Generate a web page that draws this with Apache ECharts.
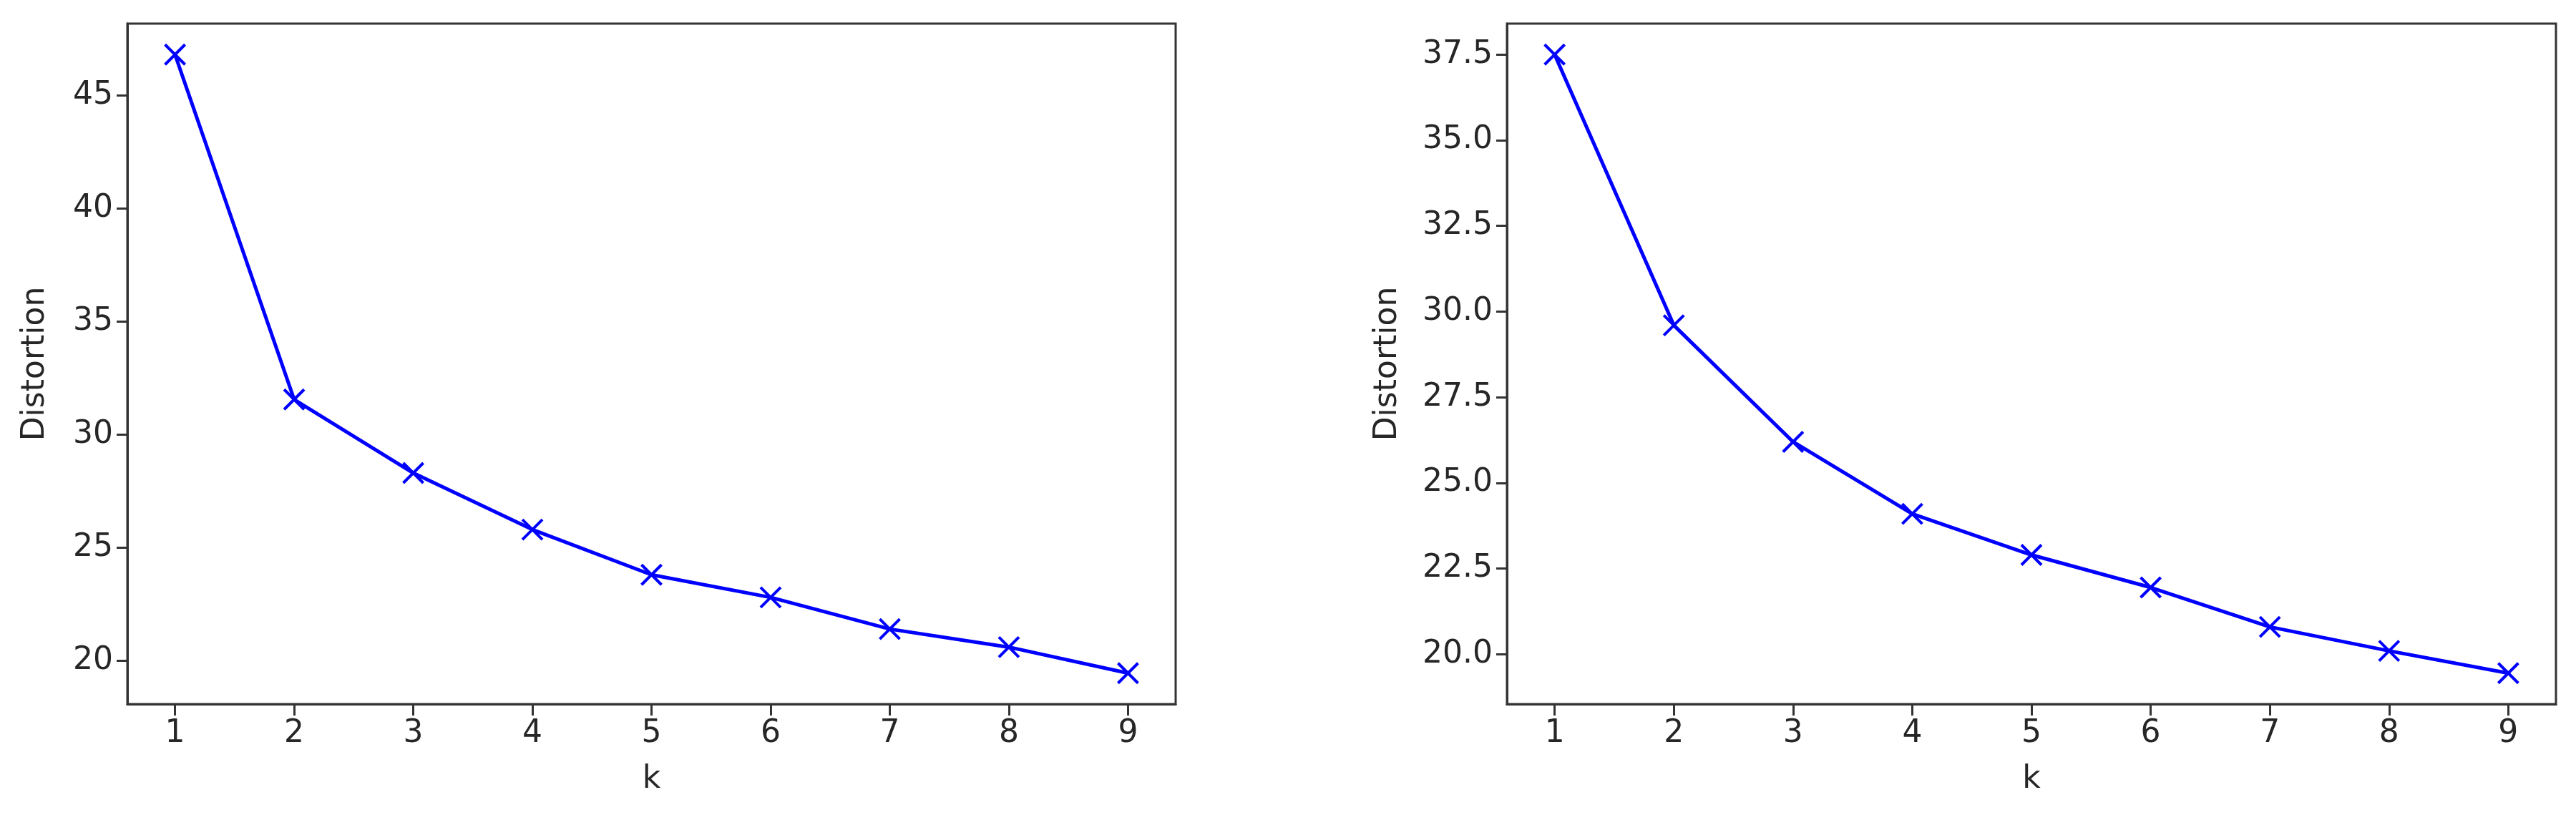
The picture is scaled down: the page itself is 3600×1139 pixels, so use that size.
<!DOCTYPE html>
<html>
<head>
<meta charset="utf-8">
<script src="https://cdn.jsdelivr.net/npm/echarts@6/dist/echarts.min.js"></script>
<style>
html,body{margin:0;padding:0;background:#ffffff;}
#chart{width:3600px;height:1139px;}
</style>
</head>
<body>
<div id="chart"></div>
<script>
// ---- data ----
const kValues = [1, 2, 3, 4, 5, 6, 7, 8, 9];
const leftDistortion = [46.8, 31.55, 28.3, 25.8, 23.8, 22.8, 21.4, 20.6, 19.45];
const rightDistortion = [37.5, 29.6, 26.2, 24.1, 22.9, 21.95, 20.8, 20.1, 19.45];
const xTicks = [1, 2, 3, 4, 5, 6, 7, 8, 9];
const leftYTicks = [20, 25, 30, 35, 40, 45];
const rightYTicks = [20, 22.5, 25, 27.5, 30, 32.5, 35, 37.5];
const xAxisName = 'k';
const yAxisName = 'Distortion';

// ---- styling ----
const FONT = 'DejaVu Sans';
const TEXT = '#262626';
const AXIS = '#333333';
const BLUE = '#0000ff';
const X_MARK = 'path://M0,0L10,10M10,0L0,10';

function pad(vals, frac) {
  const lo = Math.min.apply(null, vals), hi = Math.max.apply(null, vals);
  const m = (hi - lo) * frac;
  return [lo - m, hi + m];
}
const xRange = pad(kValues, 0.05);
const leftRange = pad(leftDistortion, 0.05);
const rightRange = pad(rightDistortion, 0.05);

function xAxis(idx) {
  return {
    type: 'value', gridIndex: idx, min: xRange[0], max: xRange[1],
    axisLine: {show: true, onZero: false, lineStyle: {color: AXIS, width: 3}},
    axisTick: {show: true, customValues: xTicks, length: 16, lineStyle: {color: AXIS, width: 3}},
    axisLabel: {customValues: xTicks, fontSize: 44, fontFamily: FONT, color: TEXT, margin: 20},
    splitLine: {show: false},
    name: xAxisName, nameLocation: 'middle', nameGap: 84,
    nameTextStyle: {fontSize: 44, fontFamily: FONT, color: TEXT}
  };
}
function yAxis(idx, range, ticks, fmt, gap) {
  return {
    type: 'value', gridIndex: idx, min: range[0], max: range[1],
    axisLine: {show: true, onZero: false, lineStyle: {color: AXIS, width: 3}},
    axisTick: {show: true, customValues: ticks, length: 15, lineStyle: {color: AXIS, width: 3}},
    axisLabel: {customValues: ticks, fontSize: 44, fontFamily: FONT, color: TEXT, margin: 20, formatter: fmt},
    splitLine: {show: false},
    name: yAxisName, nameLocation: 'middle', nameGap: gap,
    nameTextStyle: {fontSize: 44, fontFamily: FONT, color: TEXT}
  };
}
function series(idx, vals) {
  return {
    type: 'line', xAxisIndex: idx, yAxisIndex: idx,
    data: kValues.map((k, i) => [k, vals[i]]),
    lineStyle: {color: BLUE, width: 5},
    symbol: X_MARK, symbolSize: 28, showAllSymbol: true,
    itemStyle: {color: BLUE, borderColor: BLUE, borderWidth: 4},
    emphasis: {disabled: true}, clip: false, animation: false
  };
}

const chart = echarts.init(document.getElementById('chart'), null, {renderer: 'canvas'});
chart.setOption({
  backgroundColor: '#ffffff',
  animation: false,
  grid: [
    {left: 178, top: 33, width: 1465, height: 951, show: true, borderColor: AXIS, borderWidth: 3, backgroundColor: 'transparent'},
    {left: 2106, top: 33, width: 1466, height: 951, show: true, borderColor: AXIS, borderWidth: 3, backgroundColor: 'transparent'}
  ],
  xAxis: [xAxis(0), xAxis(1)],
  yAxis: [
    yAxis(0, leftRange, leftYTicks, v => String(v), 106),
    yAxis(1, rightRange, rightYTicks, v => v.toFixed(1), 144)
  ],
  series: [series(0, leftDistortion), series(1, rightDistortion)]
});
</script>
</body>
</html>
